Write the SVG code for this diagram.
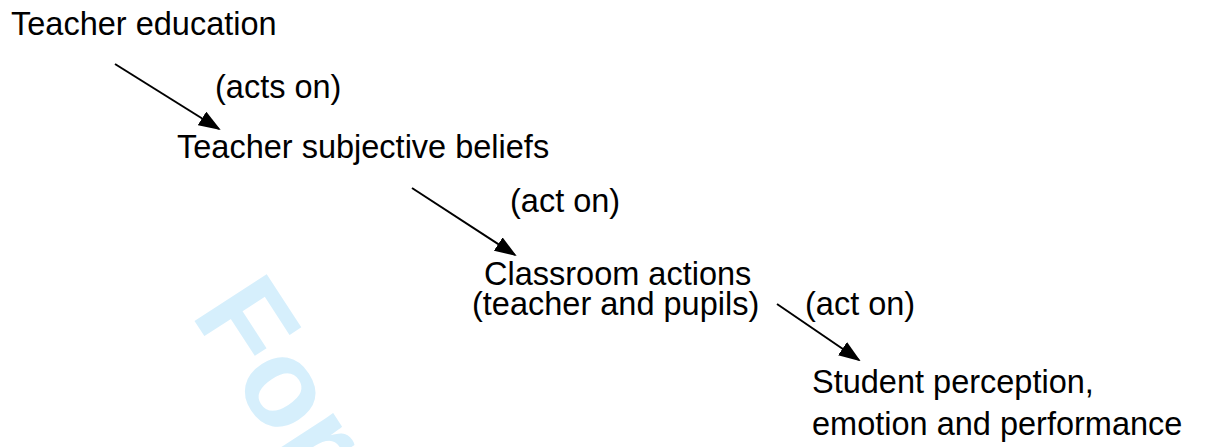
<svg xmlns="http://www.w3.org/2000/svg" width="1205" height="447" viewBox="0 0 1205 447">
<style>
.t{font-family:"Liberation Sans",Arial,Helvetica,sans-serif;font-size:32.5px;fill:#000}
.wm{font-family:"Liberation Sans",Arial,sans-serif;font-weight:bold;font-size:125px;fill:#d6effc}
.c{stroke:#000;stroke-width:2;fill:none;marker-end:url(#ah)}
</style>
<defs>
<marker id="ah" markerUnits="userSpaceOnUse" markerWidth="22" markerHeight="16" refX="20" refY="8" orient="auto" viewBox="0 0 22 16">
<path d="M0,0 L22,8 L0,16 Z" fill="#000"/>
</marker>
</defs>
<rect width="1205" height="447" fill="#fff"/>
<text class="wm" transform="translate(190,314) rotate(57)">For</text>
<g id="connectors">
<line class="c" x1="115" y1="64" x2="219" y2="129"/>
<line class="c" x1="412" y1="188" x2="515" y2="255"/>
<line class="c" x1="777" y1="304" x2="859" y2="360"/>
</g>
<g id="n1"><text class="t" x="11" y="35">Teacher education</text></g>
<g id="l1"><text class="t" x="215" y="98">(acts on)</text></g>
<g id="n2"><text class="t" x="177" y="158">Teacher subjective beliefs</text></g>
<g id="l2"><text class="t" x="510" y="212">(act on)</text></g>
<g id="n3"><text class="t" x="484" y="285">Classroom actions</text><text class="t" x="472" y="315">(teacher and pupils)</text></g>
<g id="l3"><text class="t" x="805" y="315">(act on)</text></g>
<g id="n4"><text class="t" x="812" y="393">Student perception,</text><text class="t" x="812" y="435">emotion and performance</text></g>
</svg>
